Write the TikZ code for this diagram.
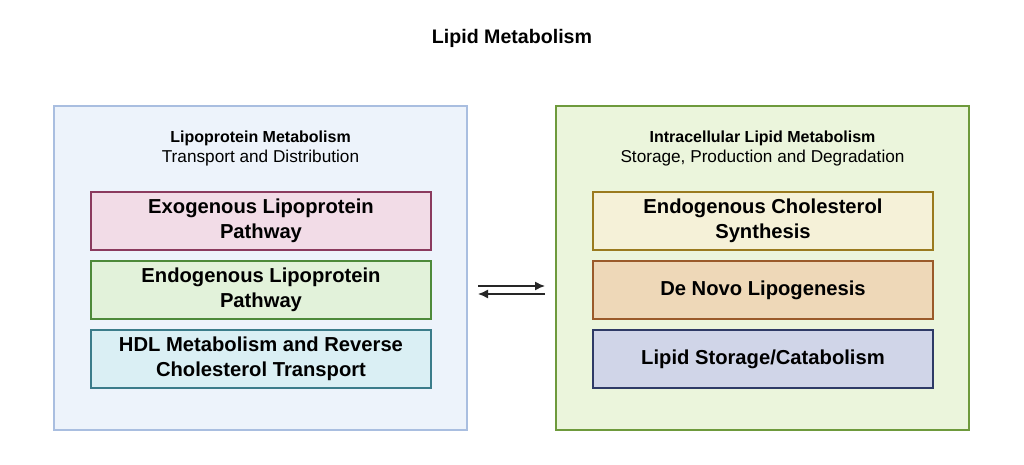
\documentclass[tikz,border=0pt]{standalone}
\usepackage{fontspec}
\setmainfont{Liberation Sans}
\usetikzlibrary{arrows.meta,positioning}

\definecolor{azulFondo}{HTML}{EDF3FB}
\definecolor{azulBorde}{HTML}{A9BEE0}
\definecolor{verdeFondo}{HTML}{EBF5DC}
\definecolor{verdeBorde}{HTML}{6E9A3C}
\definecolor{exoFondo}{HTML}{F2DCE7}
\definecolor{exoBorde}{HTML}{8B3A5E}
\definecolor{endoFondo}{HTML}{E2F2DA}
\definecolor{endoBorde}{HTML}{4E8A3A}
\definecolor{hdlFondo}{HTML}{DAEFF4}
\definecolor{hdlBorde}{HTML}{3B7C8A}
\definecolor{colFondo}{HTML}{F5F1D8}
\definecolor{colBorde}{HTML}{9A7A1E}
\definecolor{dnlFondo}{HTML}{EED8B8}
\definecolor{dnlBorde}{HTML}{9A5A2A}
\definecolor{almFondo}{HTML}{D0D5E8}
\definecolor{almBorde}{HTML}{2E3A66}

\begin{document}
\begin{tikzpicture}[
        x=0.5pt, y=-0.5pt,
        node distance=5.5pt,
        bloque/.style={draw, line width=0.8pt, minimum width=206.5pt, minimum height=162pt, inner sep=0pt},
        cabecera/.style={align=center, font=\fontsize{8.6}{10}\selectfont},
        via/.style={draw, line width=0.7pt, align=center, minimum width=170pt, minimum height=29pt, inner sep=0pt,
            outer sep=0pt, font=\bfseries\fontsize{10.1}{12.5}\selectfont},
        flecha/.style={-{Latex[length=5pt,width=4.5pt]}, line width=0.7pt, black!85}
    ]
        \useasboundingbox (0,0) rectangle (1024,465);

        \node[font=\bfseries\fontsize{9.8}{11}\selectfont] (titulo) at (512,38) {Lipid Metabolism};

        % dos compartimentos
        \node[bloque, draw=azulBorde, fill=azulFondo] (lipo) at (260.5,268) {};
        \node[bloque, draw=verdeBorde, fill=verdeFondo] (intra) at (762.5,268) {};

        \node[cabecera] (lipoT) at (260.5,148) {{\bfseries\fontsize{8}{10}\selectfont Lipoprotein Metabolism}\\Transport and Distribution};
        \node[cabecera] (intraT) at (762.5,148) {{\bfseries\fontsize{8}{10}\selectfont Intracellular Lipid Metabolism}\\Storage, Production and Degradation};

        % vias del lado izquierdo
        \node[via, draw=exoBorde, fill=exoFondo] (exo) at (261,221) {Exogenous Lipoprotein\\Pathway};
        \node[via, draw=endoBorde, fill=endoFondo, below=of exo] (endo) {Endogenous Lipoprotein\\Pathway};
        \node[via, draw=hdlBorde, fill=hdlFondo, below=of endo] (hdl) {HDL Metabolism and Reverse\\Cholesterol Transport};

        % vias del lado derecho
        \node[via, draw=colBorde, fill=colFondo] (col) at (763,221) {Endogenous Cholesterol\\Synthesis};
        \node[via, draw=dnlBorde, fill=dnlFondo, below=of col] (dnl) {De Novo Lipogenesis};
        \node[via, draw=almBorde, fill=almFondo, below=of dnl] (alm) {Lipid Storage/Catabolism};

        % intercambio
        \coordinate (ida1) at (478,286);
        \coordinate (ida2) at (545,286);
        \coordinate (vuelta1) at (545,294);
        \coordinate (vuelta2) at (478,294);
        \draw[flecha] (ida1) -- (ida2);
        \draw[flecha] (vuelta1) -- (vuelta2);
\end{tikzpicture}
\end{document}
